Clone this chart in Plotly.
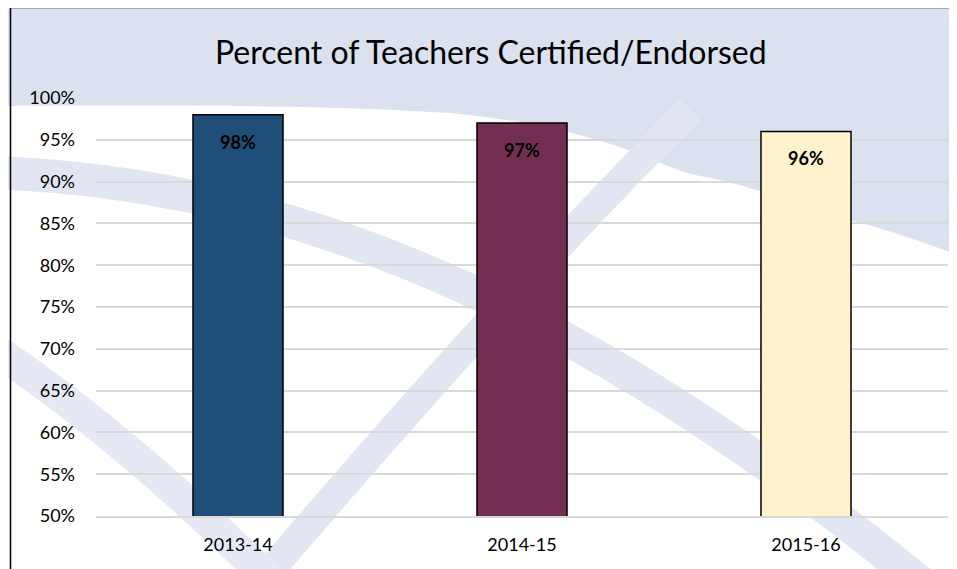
import plotly.graph_objects as go

# ---- data ----
categories = ["2013-14", "2014-15", "2015-16"]
values = [98, 97, 96]
bar_colors = ["#1F4E79", "#722F52", "#FFF2CC"]
value_labels = ["98%", "97%", "96%"]
y_ticks = [50, 55, 60, 65, 70, 75, 80, 85, 90, 95, 100]
y_tick_labels = [f"{t}%" for t in y_ticks]
title_text = "Percent of Teachers Certified/Endorsed"

OFF = 8  # page body margin
SW, SH = 957, 569  # screen size
W, H = SW - OFF, SH - OFF
# plot area in screen coordinates: x 96..948, y 98..516
L, R, T, B = 96 - OFF, W - (948 - OFF), 98 - OFF, H - (516 - OFF)
PW, PH = W - L - R, H - T - B


def px(x, y):
    x -= OFF
    y -= OFF
    return (x - L) / PW, (H - B - y) / PH


def path(cmds):
    out = []
    for c in cmds:
        if isinstance(c, str):
            out.append(c)
        else:
            a, b = px(*c)
            out.append(f"{a:.4f},{b:.4f}")
    return " ".join(out)


FONT = "Lato, Open Sans, sans-serif"
LAV = "#DCE1F0"
BAND = "#E2E6F3"
shapes = [
    # top lavender region
    dict(type="path", xref="paper", yref="paper", layer="below",
         path=path(["M", (-5, -5), "L", (965, -5), "L", (965, 258),
                    "C", (920, 240), (880, 228), (850, 220),
                    "C", (800, 205), (740, 182), (700, 176),
                    "C", (660, 170), (620, 130), (450, 113),
                    "C", (300, 103), (100, 106), (-5, 106), "Z"]),
         fillcolor=LAV, line=dict(width=0)),
    # long arc band
    dict(type="path", xref="paper", yref="paper", layer="below",
         path=path(["M", (-20, 172), "C", (250, 180), (550, 270), (960, 615)]),
         fillcolor="rgba(0,0,0,0)", line=dict(color=BAND, width=33)),
    # diagonal "/" band
    dict(type="path", xref="paper", yref="paper", layer="below",
         path=path(["M", (690, 110), "Q", (500, 300), (245, 600)]),
         fillcolor="rgba(0,0,0,0)", line=dict(color=BAND, width=29)),
    # left band
    dict(type="path", xref="paper", yref="paper", layer="below",
         path=path(["M", (-20, 340), "Q", (120, 430), (290, 600)]),
         fillcolor="rgba(0,0,0,0)", line=dict(color="#E6E9F4", width=32)),
    # frame lines
    dict(type="line", xref="paper", yref="paper",
         x0=px(10.5, 7.5)[0], y0=px(10.5, 7.5)[1], x1=px(970, 7.5)[0], y1=px(970, 7.5)[1],
         line=dict(color="#000000", width=1.5)),
    dict(type="line", xref="paper", yref="paper",
         x0=px(10.5, 7.5)[0], y0=px(10.5, 7.5)[1], x1=px(10.5, 580)[0], y1=px(10.5, 580)[1],
         line=dict(color="#000000", width=1.5)),
]

fig = go.Figure()
fig.add_trace(go.Bar(
    x=categories, y=values, width=0.317,
    marker=dict(color=bar_colors, line=dict(color="#000000", width=1.5)),
    hoverinfo="skip",
))

annotations = []
for c, v, lab in zip(categories, values, value_labels):
    annotations.append(dict(x=c, y=v, text=f"<b>{lab}</b>", showarrow=False,
                            xref="x", yref="y", yanchor="middle", yshift=-27,
                            font=dict(family=FONT, size=18, color="#000000")))

tx, ty = px(491, 52)
annotations.append(dict(text=title_text, x=tx, y=ty, xref="paper", yref="paper",
                        showarrow=False, xanchor="center", yanchor="middle",
                        font=dict(family=FONT, size=32, color="#000000")))

fig.update_layout(
    width=W, height=H,
    margin=dict(l=L, r=R, t=T, b=B, pad=0),
    paper_bgcolor="#FFFFFF", plot_bgcolor="rgba(0,0,0,0)",
    showlegend=False,
    shapes=shapes,
    annotations=annotations,
)
fig.update_yaxes(range=[50, 100], tickvals=y_ticks, ticktext=y_tick_labels,
                 showgrid=True, gridcolor="#D9D9D9", gridwidth=1.5, zeroline=False,
                 showline=False, ticks="", ticklabelstandoff=20,
                 tickfont=dict(family=FONT, size=18, color="#000000"))
fig.update_xaxes(showline=True, linecolor="#D9D9D9", linewidth=1.5, ticks="",
                 showgrid=False, ticklabelstandoff=12,
                 tickfont=dict(family=FONT, size=18, color="#000000"))

fig.write_html("out.html")
